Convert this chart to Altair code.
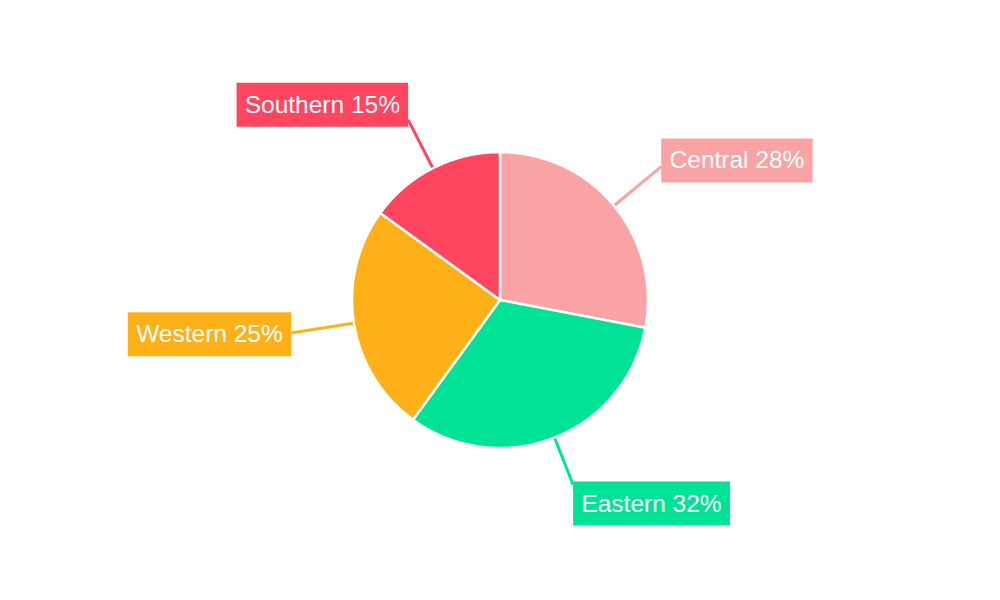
import math
import altair as alt
import pandas as pd

categories = ["Central", "Eastern", "Western", "Southern"]
values = [28, 32, 25, 15]
colors = ["#F9A3A4", "#00E396", "#FEB019", "#FF4560"]

# ---- layout constants (pixels, relative to the pie centre) ----
W, H = 984, 584
PIE_R = 148
LINE_R0 = 149
LABEL_R = 219
EDGE_INSET = 7.5
BOX_H = 44
FONT_SIZE = 24
TEXT_SIZE = 24.5
PAD = 9.7

# Arial / Liberation Sans advance widths (per 1000 em)
AW = {"S": 667, "o": 556, "u": 556, "t": 278, "h": 556, "e": 556, "r": 333,
      "n": 556, " ": 278, "%": 889, "C": 722, "a": 556, "l": 222, "E": 667,
      "s": 500, "W": 944}
for d in "0123456789":
    AW[d] = 556


def text_width(s):
    return sum(AW.get(c, 556) for c in s) * FONT_SIZE / 1000.0


total = sum(values)
rows = []
cum = 0
for i, (cat, val) in enumerate(zip(categories, values)):
    mid = (cum + val / 2) / total * 2 * math.pi
    cum += val
    s, c = math.sin(mid), math.cos(mid)
    sign = 1 if s >= 0 else -1
    ax, ay = LABEL_R * s, LABEL_R * c
    edge = ax - sign * EDGE_INSET
    r_end = abs(edge / s)
    x0, y0 = LINE_R0 * s, LINE_R0 * c
    x1, y1 = r_end * s, r_end * c
    label = f"{cat} {val}%"
    bw = text_width(label) + 2 * PAD
    if sign > 0:
        bx1, bx2 = edge, edge + bw
    else:
        bx1, bx2 = edge - bw, edge
    cy = ay
    rows.append(dict(idx=i, category=cat, value=val, label=label,
                     lx0=x0, ly0=y0, lx1=x1, ly1=y1,
                     bx1=bx1, bx2=bx2, by1=cy - BOX_H / 2, by2=cy + BOX_H / 2,
                     tx=(bx1 + bx2) / 2, ty=cy))
df = pd.DataFrame(rows)

xs = alt.Scale(domain=[-W / 2, W / 2], nice=False, zero=False)
ys = alt.Scale(domain=[-H / 2, H / 2], nice=False, zero=False)
col = alt.Color("category:N", scale=alt.Scale(domain=categories, range=colors), legend=None)

base = alt.Chart(df)

pie = base.mark_arc(radius=PIE_R, stroke="white", strokeWidth=2.5).encode(
    theta=alt.Theta("value:Q", stack=True),
    order=alt.Order("idx:Q"),
    color=col,
)

lines = base.mark_rule(strokeWidth=3).encode(
    x=alt.X("lx0:Q", scale=xs, axis=None),
    y=alt.Y("ly0:Q", scale=ys, axis=None),
    x2="lx1:Q",
    y2="ly1:Q",
    color=col,
)

boxes = base.mark_rect().encode(
    x=alt.X("bx1:Q", scale=xs, axis=None),
    x2="bx2:Q",
    y=alt.Y("by1:Q", scale=ys, axis=None),
    y2="by2:Q",
    color=col,
)

texts = base.mark_text(
    font="Liberation Sans", fontSize=TEXT_SIZE, color="white",
    align="center", baseline="middle", dy=1,
).encode(
    x=alt.X("tx:Q", scale=xs, axis=None),
    y=alt.Y("ty:Q", scale=ys, axis=None),
    text="label:N",
)

chart = alt.layer(pie, lines, boxes, texts).properties(
    width=W, height=H, autosize="none", padding=0, background="white"
).configure_view(stroke=None)

chart.save("out.html", embed_options={"renderer": "svg", "actions": False})
